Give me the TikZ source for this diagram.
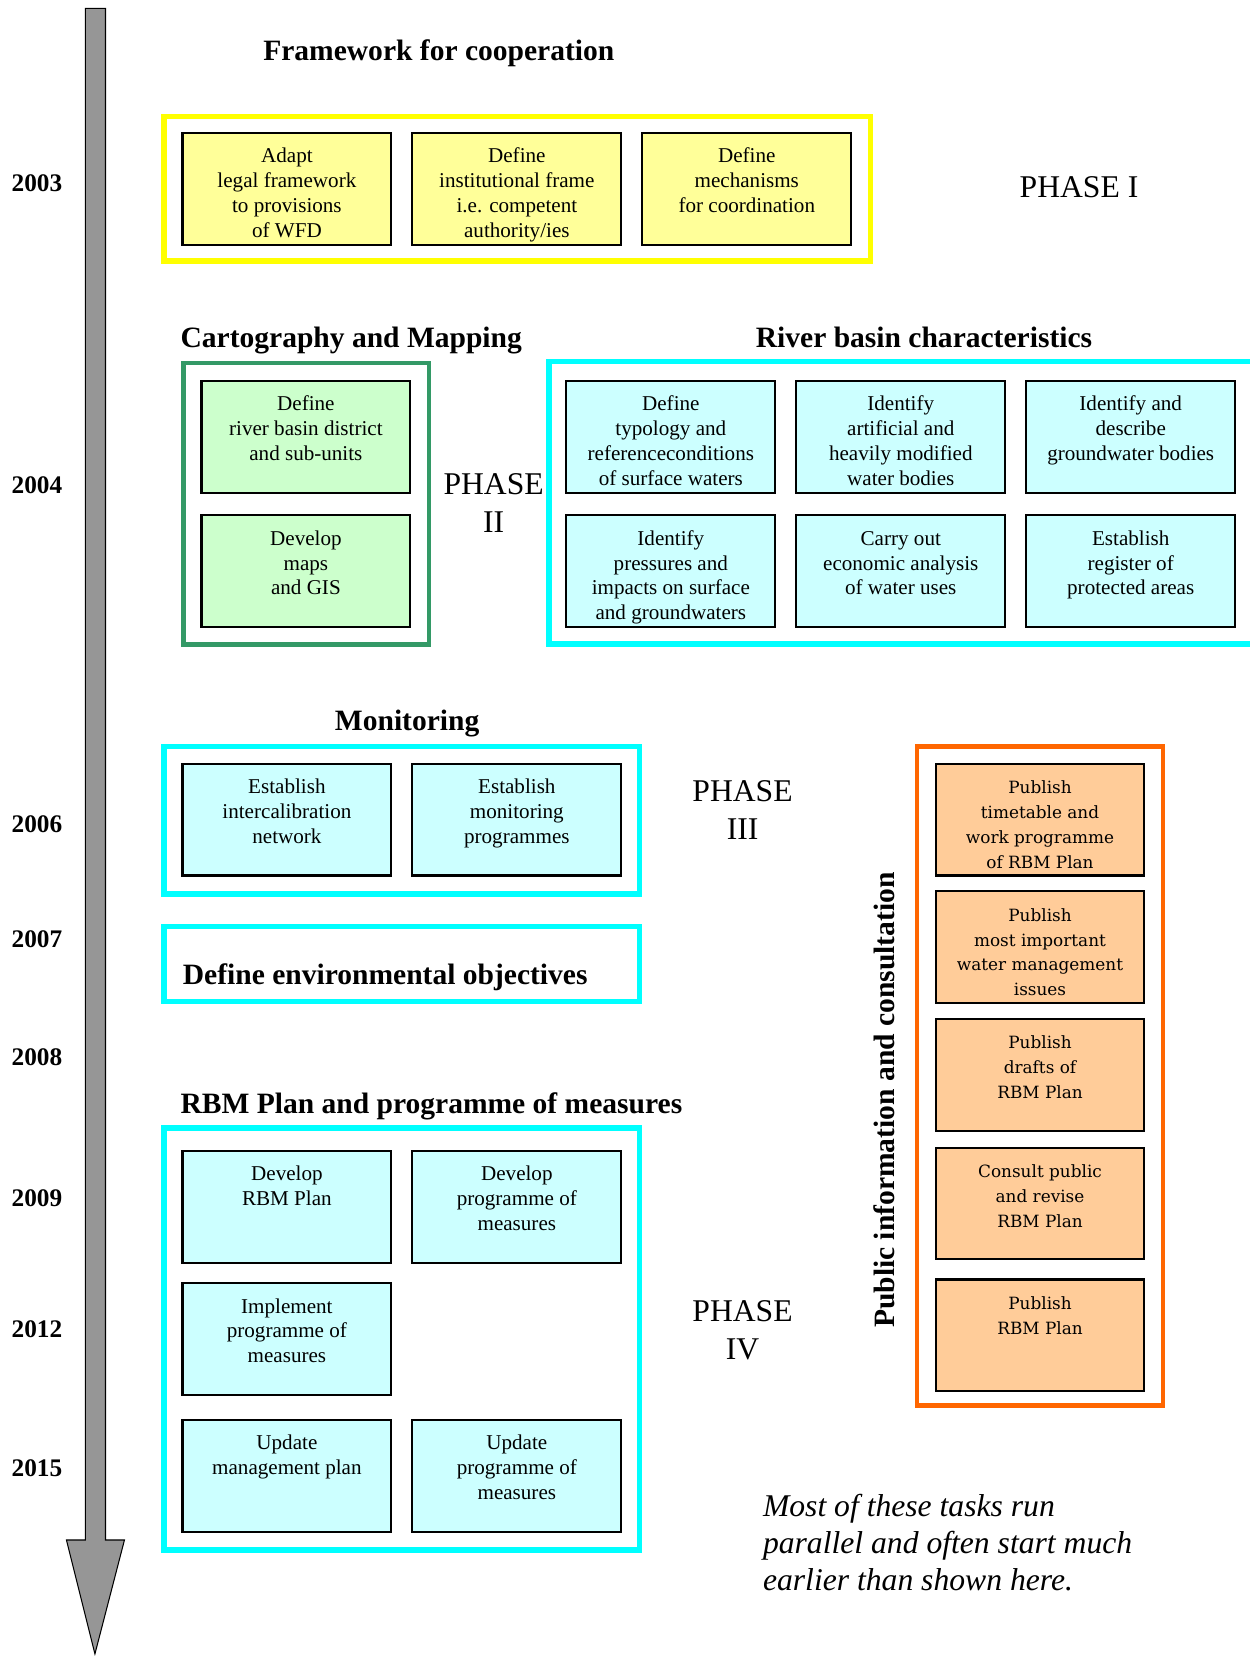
\documentclass[tikz,border=0pt]{standalone}
\usepackage{fontspec}
\setmainfont{Liberation Serif}
\newfontfamily\pubfont{DejaVu Serif}
\definecolor{yellowframe}{RGB}{255,255,0}
\definecolor{yellowfill}{RGB}{255,255,153}
\definecolor{greenframe}{RGB}{51,153,102}
\definecolor{greenfill}{RGB}{204,255,204}
\definecolor{cyanframe}{RGB}{0,255,255}
\definecolor{cyanfill}{RGB}{204,255,255}
\definecolor{orangeframe}{RGB}{255,102,0}
\definecolor{orangefill}{RGB}{255,204,153}
\definecolor{timegray}{RGB}{150,150,150}
% text of a task box, set from the top
\newcommand{\tasklines}[1]{\parbox[c][41pt][t]{95pt}{\centering\strut #1}}
\begin{document}
\begin{tikzpicture}[x=0.5pt, y=-0.5pt,
    task/.style={draw, line width=1pt, minimum width=99pt, minimum height=53pt, inner xsep=2pt, inner ysep=6pt, font=\fontsize{10}{11.75}\selectfont},
    pubtask/.style={task, fill=orangefill, font=\pubfont\fontsize{8}{11.75}\selectfont},
    heading/.style={font=\bfseries\fontsize{14}{16}\selectfont, inner sep=0pt},
    year/.style={font=\bfseries\fontsize{12}{14}\selectfont, inner sep=0pt, anchor=base},
    phase/.style={font=\fontsize{15}{18}\selectfont, align=center, inner sep=0pt},
    frame/.style={line width=2.5pt}]
    \useasboundingbox (0,0) rectangle (1185,1570);
    % time line
    \filldraw[fill=timegray, line width=0.5pt] (81,8) -- (100,8) -- (100,1460) -- (118,1460) -- (90,1568) -- (63,1460) -- (81,1460) -- cycle;
    \node[year] (y2003) at (35,182) {2003};
    \node[year] (y2004) at (35,468) {2004};
    \node[year] (y2006) at (35,789) {2006};
    \node[year] (y2007) at (35,898) {2007};
    \node[year] (y2008) at (35,1010) {2008};
    \node[year] (y2009) at (35,1144) {2009};
    \node[year] (y2012) at (35,1268) {2012};
    \node[year] (y2015) at (35,1400) {2015};

    % phase I
    \node[heading, anchor=base] (hcoop) at (416,57) {Framework for cooperation};
    \draw[frame, yellowframe] (155.5,110.5) rectangle (825.5,247.5);
    \node[task, fill=yellowfill] (a1) at (272,179) {\tasklines{Adapt\\legal framework\\to provisions\\of WFD}};
    \node[task, fill=yellowfill] (a2) at (490,179) {\tasklines{Define\\institutional frame\\i.e. competent\\authority/ies}};
    \node[task, fill=yellowfill] (a3) at (708,179) {\tasklines{Define\\mechanisms\\for coordination}};
    \node[phase] (ph1) at (1023,177) {PHASE I};

    % phase II
    \node[heading, anchor=base] (hmap) at (333,329) {Cartography and Mapping};
    \node[heading, anchor=base] (hbasin) at (876,329) {River basin characteristics};
    \draw[frame, greenframe, line width=2pt] (174,344) rectangle (407,611);
    \node[task, fill=greenfill] (c1) at (290,414) {\tasklines{Define\\river basin district\\and sub-units}};
    \node[task, fill=greenfill] (c2) at (290,541.5) {\tasklines{Develop\\maps\\and GIS}};
    \node[phase] (ph2) at (468,477) {PHASE\\II};
    \draw[frame, cyanframe] (520.5,342.5) rectangle (1195,610.5);
    \node[task, fill=cyanfill] (r1) at (636,414) {\tasklines{Define\\typology and\\referenceconditions\\of surface waters}};
    \node[task, fill=cyanfill] (r2) at (854,414) {\tasklines{Identify\\artificial and\\heavily modified\\water bodies}};
    \node[task, fill=cyanfill] (r3) at (1072,414) {\tasklines{Identify and\\describe\\groundwater bodies}};
    \node[task, fill=cyanfill] (r4) at (636,541.5) {\tasklines{Identify\\pressures and\\impacts on surface\\and groundwaters}};
    \node[task, fill=cyanfill] (r5) at (854,541.5) {\tasklines{Carry out\\economic analysis\\of water uses}};
    \node[task, fill=cyanfill] (r6) at (1072,541.5) {\tasklines{Establish\\register of\\protected areas}};

    % phase III
    \node[heading, anchor=base] (hmon) at (386,693) {Monitoring};
    \draw[frame, cyanframe] (155.5,707.5) rectangle (606.5,847.5);
    \node[task, fill=cyanfill] (m1) at (272,777) {\tasklines{Establish\\intercalibration\\network}};
    \node[task, fill=cyanfill] (m2) at (490,777) {\tasklines{Establish\\monitoring\\programmes}};
    \node[phase] (ph3) at (704,768) {PHASE\\III};
    \draw[frame, cyanframe] (155.5,878.5) rectangle (606.5,949.5);
    \node[heading, anchor=base west] (envobj) at (173,933) {Define environmental objectives};

    % phase IV
    \node[heading, anchor=base] (hplan) at (409,1056) {RBM Plan and programme of measures};
    \draw[frame, cyanframe] (155.5,1069.5) rectangle (606.5,1469.5);
    \node[task, fill=cyanfill] (p1) at (272,1144) {\tasklines{Develop\\RBM Plan}};
    \node[task, fill=cyanfill] (p2) at (490,1144) {\tasklines{Develop\\programme of\\measures}};
    \node[task, fill=cyanfill] (p3) at (272,1269.5) {\tasklines{Implement\\programme of\\measures}};
    \node[task, fill=cyanfill] (p4) at (272,1399) {\tasklines{Update\\management plan}};
    \node[task, fill=cyanfill] (p5) at (490,1399) {\tasklines{Update\\programme of\\measures}};
    \node[phase] (ph4) at (704,1261) {PHASE\\IV};

    % public information
    \draw[frame, orangeframe, line width=2.2pt] (869.5,707.5) rectangle (1102.5,1332.5);
    \node[heading, rotate=90] (hpublic) at (838,1043) {Public information and consultation};
    \node[pubtask] (o1) at (986,777) {\tasklines{Publish\\timetable and\\work programme\\of RBM Plan}};
    \node[pubtask] (o2) at (986,898) {\tasklines{Publish\\most important\\water management\\issues}};
    \node[pubtask] (o3) at (986,1019) {\tasklines{Publish\\drafts of\\RBM Plan}};
    \node[pubtask] (o4) at (986,1141) {\tasklines{Consult public\\and revise\\RBM Plan}};
    \node[pubtask] (o5) at (986,1266) {\tasklines{Publish\\RBM Plan}};

    \node[anchor=north west, align=left, inner sep=0pt, font=\itshape\fontsize{15}{17.5}\selectfont] (note) at (723,1416) {Most of these tasks run\\parallel and often start much\\earlier than shown here.};
\end{tikzpicture}
\end{document}
